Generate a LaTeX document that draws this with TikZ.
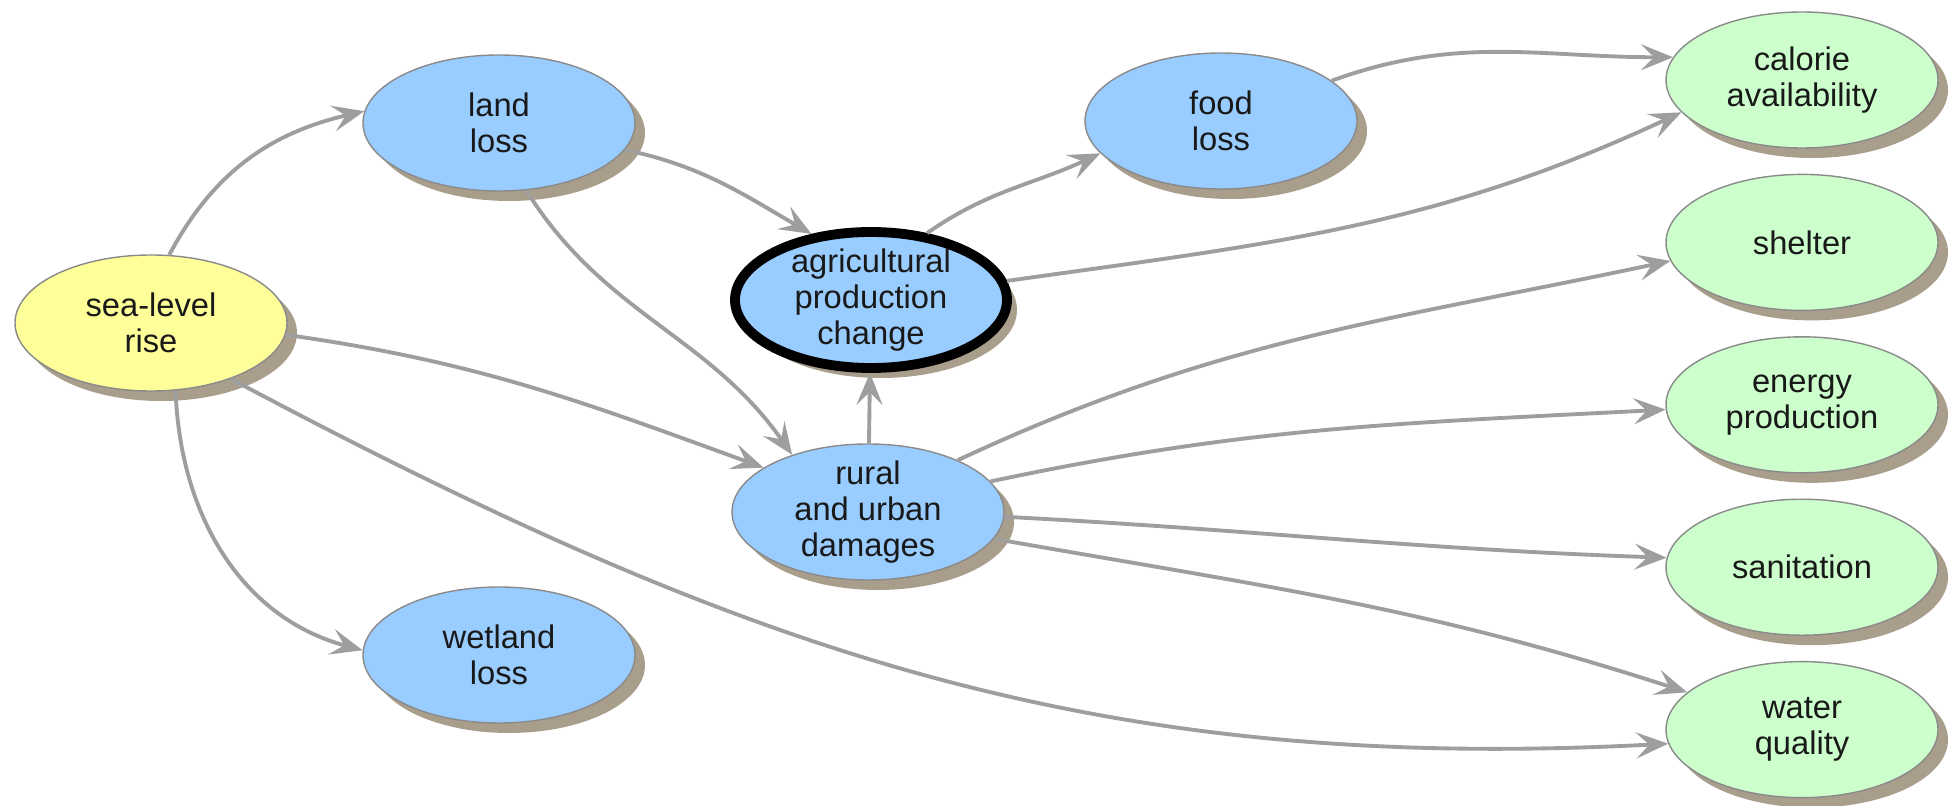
\documentclass[tikz,border=0pt]{standalone}
\usepackage{fontspec}
\setmainfont{Liberation Sans}
\usepackage{tikz}
\usetikzlibrary{positioning,shapes.geometric,arrows.meta,shadows}
\definecolor{hazardfill}{HTML}{FFFF99}
\definecolor{impactfill}{HTML}{99CCFF}
\definecolor{needfill}{HTML}{CCFFCC}
\definecolor{rimgray}{HTML}{8A8A8A}
\definecolor{linkgray}{HTML}{9E9E9E}
\definecolor{shadowtan}{HTML}{A99E8C}
\tikzset{
  concept/.style={draw=rimgray, line width=0.4pt, ellipse, align=center, minimum width=27.2mm, minimum height=13.6mm, inner xsep=0pt, inner ysep=-2.5mm, font=\fontsize{9.3}{10.2}\selectfont, text=black!90, drop shadow={shadow xshift=1mm, shadow yshift=-1mm, fill=shadowtan, opacity=1}},
  hazard/.style={concept, fill=hazardfill},
  impact/.style={concept, fill=impactfill},
  need/.style={concept, fill=needfill},
  focus/.style={impact, draw=black, line width=2.8pt},
  arrow/.style={-{Stealth[length=3.2mm, width=2.6mm, inset=1.3mm]}, draw=linkgray, line width=1.1pt}
}

\begin{document}
\begin{tikzpicture}[node distance=2.5mm]
  \useasboundingbox (0,0) rectangle (19.57,8.05);
  \node[hazard] (slr) at (1.51,4.82) {sea-level\\rise};
  \node[impact] (land) at (4.99,6.82) {land\\loss};
  \node[impact] (wetland) at (4.99,1.50) {wetland\\loss};
  \node[focus] (agri) at (8.71,5.05) {agricultural\\production\\change};
  \node[impact] (rural) at (8.68,2.93) {rural\\and urban\\damages};
  \node[impact] (food) at (12.21,6.84) {food\\loss};
  \node[need] (calorie) at (18.02,7.25) {calorie\\availability};
  \node[need, below=of calorie] (shelter) {shelter};
  \node[need, below=of shelter] (energy) {energy\\production};
  \node[need, below=of energy] (sanit) {sanitation};
  \node[need, below=of sanit] (water) {water\\quality};

  \draw[arrow] (slr.75) to[out=62, in=193] (land.175);
  \draw[arrow] (slr.-70) to[out=-88, in=165] (wetland.178);
  \draw[arrow] (slr.-5) to[out=-8, in=160] (rural.157);
  \draw[arrow] (slr.-35) to[out=-28, in=183] (water.186);
  \draw[arrow] (land.-12) to[out=-12, in=150] (agri.132);
  \draw[arrow] (land.-68) to[out=-58, in=125] (rural.143);
  \draw[arrow] (rural) -- (agri);
  \draw[arrow] (agri.50) to[out=35, in=205] (food.195);
  \draw[arrow] (agri.8) to[out=8, in=205] (calorie.195);
  \draw[arrow] (food.20) to[out=20, in=180] (calorie.170);
  \draw[arrow] (rural.30) to[out=25, in=192] (shelter.188);
  \draw[arrow] (rural.14) to[out=12, in=183] (energy.182);
  \draw[arrow] (rural.-2) to[out=-3, in=178] (sanit.176);
  \draw[arrow] (rural.-12) to[out=-10, in=162] (water.162);
\end{tikzpicture}
\end{document}
